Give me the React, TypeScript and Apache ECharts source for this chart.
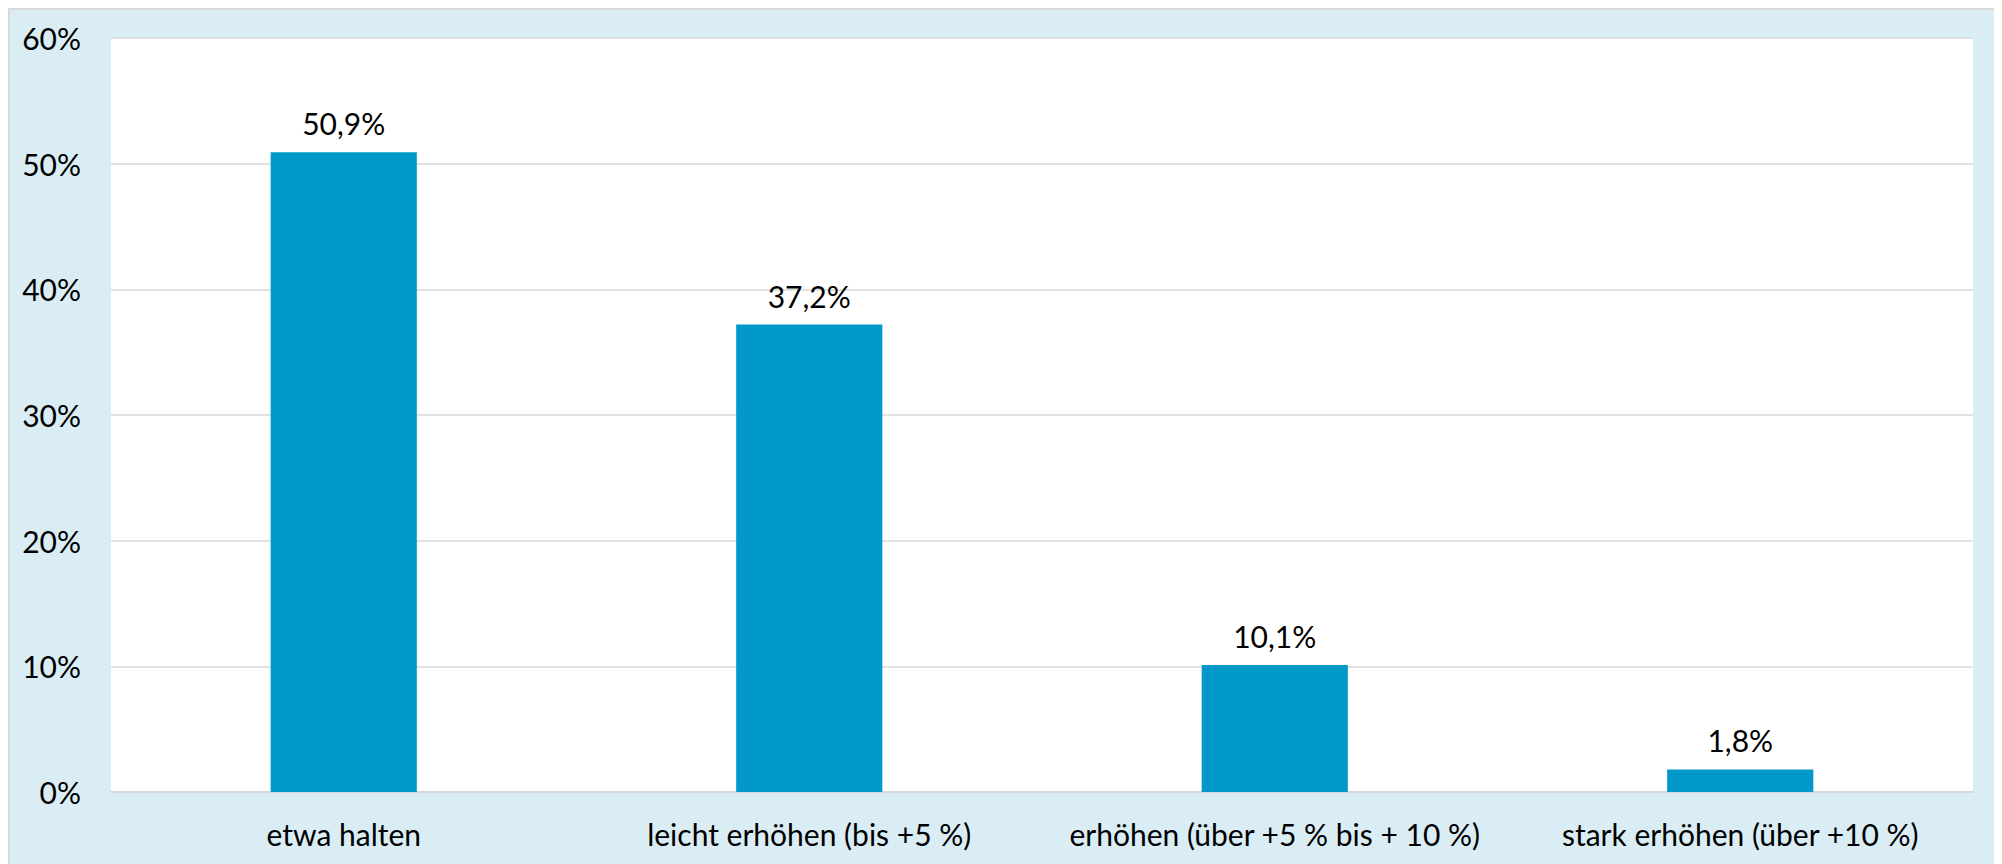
import React, { useEffect, useRef } from "react";
import * as echarts from "echarts";

const categories = [
  "etwa halten",
  "leicht erhöhen (bis +5 %)",
  "erhöhen (über +5 % bis + 10 %)",
  "stark erhöhen (über +10 %)",
];
const values = [50.9, 37.2, 10.1, 1.8];
const yTicks = [0, 10, 20, 30, 40, 50, 60];

const FONT = "Lato";

export default function App() {
  const ref = useRef<HTMLDivElement>(null);
  useEffect(() => {
    if (!ref.current) return;
    const chart = echarts.init(ref.current, undefined, { renderer: "svg" });
    chart.setOption({
      animation: false,
      backgroundColor: "#daedf4",
      textStyle: { fontFamily: FONT },
      grid: {
        left: 101,
        top: 28,
        right: 23,
        bottom: 78,
        show: true,
        backgroundColor: "#ffffff",
        borderWidth: 0,
      },
      xAxis: {
        type: "category",
        data: categories,
        axisLine: { show: true, lineStyle: { color: "#d9d9d9", width: 2 } },
        axisTick: { show: false },
        axisLabel: {
          interval: 0,
          color: "#000000",
          fontSize: 30,
          fontFamily: FONT,
          margin: 27,
        },
      },
      yAxis: {
        type: "value",
        min: yTicks[0],
        max: yTicks[yTicks.length - 1],
        interval: 10,
        axisLine: { show: false },
        axisTick: { show: false },
        splitLine: { lineStyle: { color: "#d9d9d9", width: 1.5 } },
        axisLabel: {
          color: "#000000",
          fontSize: 30,
          fontFamily: FONT,
          margin: 30,
          formatter: "{value}%",
        },
      },
      series: [
        {
          type: "bar",
          data: values,
          barCategoryGap: "68.6%",
          itemStyle: { color: "#0099c9" },
          label: {
            show: true,
            position: "top",
            distance: 14,
            color: "#000000",
            fontSize: 30,
            fontFamily: FONT,
            formatter: (p: any) => String(p.value).replace(".", ",") + "%",
          },
        },
      ],
    });
    return () => chart.dispose();
  }, []);
  return (
    <div
      style={{
        width: 1986,
        height: 860,
        border: "2px solid #d9d9d9",
        borderBottom: "none",
      }}
    >
      <div ref={ref} style={{ width: 1986, height: 860 }} />
    </div>
  );
}
